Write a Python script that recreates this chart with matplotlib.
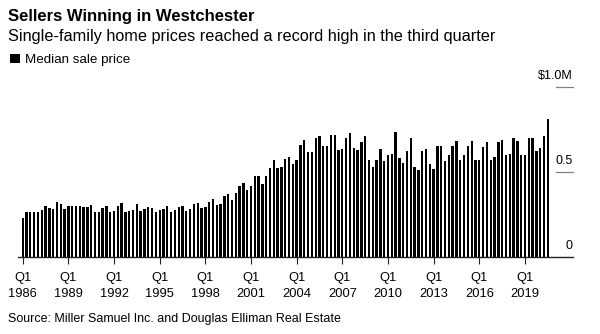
import matplotlib
matplotlib.use("Agg")
import matplotlib.pyplot as plt
import matplotlib.transforms as mtransforms
import numpy as np

plt.rcParams['font.family'] = ['Liberation Sans', 'DejaVu Sans']

# Quarterly median sale price, $ millions, Q1 1986 .. Q3 2020
prices = [
    0.228, 0.261, 0.261, 0.261, 0.261, 0.277, 0.299, 0.287, 0.281, 0.320,
    0.312, 0.281, 0.297, 0.299, 0.299, 0.299, 0.293, 0.293, 0.305, 0.261,
    0.265, 0.285, 0.297, 0.265, 0.271, 0.297, 0.316, 0.265, 0.271, 0.277,
    0.310, 0.271, 0.281, 0.293, 0.287, 0.261, 0.277, 0.281, 0.297, 0.261,
    0.277, 0.293, 0.297, 0.271, 0.281, 0.310, 0.314, 0.287, 0.293, 0.320,
    0.340, 0.307, 0.312, 0.358, 0.369, 0.336, 0.373, 0.417, 0.434, 0.395,
    0.417, 0.472, 0.476, 0.428, 0.472, 0.521, 0.568, 0.519, 0.525, 0.576,
    0.589, 0.546, 0.567, 0.659, 0.687, 0.616, 0.616, 0.697, 0.708, 0.649,
    0.649, 0.714, 0.714, 0.629, 0.634, 0.697, 0.730, 0.638, 0.625, 0.677,
    0.709, 0.569, 0.529, 0.569, 0.634, 0.565, 0.600, 0.606, 0.732, 0.581,
    0.552, 0.624, 0.698, 0.525, 0.511, 0.624, 0.634, 0.547, 0.515, 0.649,
    0.649, 0.565, 0.600, 0.649, 0.683, 0.570, 0.600, 0.649, 0.683, 0.571,
    0.571, 0.643, 0.673, 0.571, 0.585, 0.673, 0.688, 0.600, 0.606, 0.698,
    0.679, 0.600, 0.600, 0.698, 0.698, 0.619, 0.640, 0.708, 0.811,
]
start_year = 1986
tick_years = list(range(1986, 2020, 3))
y_ticks = [0, 0.5, 1.0]
y_tick_labels = ["0", "0.5", "$1.0M"]

title = "Sellers Winning in Westchester"
subtitle = "Single-family home prices reached a record high in the third quarter"
legend_label = "Median sale price"
source = "Source: Miller Samuel Inc. and Douglas Elliman Real Estate"

W, H = 600, 334
fig = plt.figure(figsize=(W / 100, H / 100), dpi=100)
ax_left, ax_right = 18, 573
ax_bottom, ax_top = 256.7, 86.7
ax = fig.add_axes([ax_left / W, 1 - ax_bottom / H, (ax_right - ax_left) / W, (ax_bottom - ax_top) / H])

x = np.arange(len(prices))
ax.bar(x, prices, width=0.62, color="black", linewidth=0, zorder=2)

step = 3.805
first_px = 22.7
ax.set_xlim(-(first_px - ax_left) / step, (ax_right - first_px) / step)
ax.set_ylim(0, 1.0)

for s in ["top", "right", "left"]:
    ax.spines[s].set_visible(False)
ax.spines["bottom"].set_color("#222222")
ax.spines["bottom"].set_linewidth(1.0)
ax.spines["bottom"].set_zorder(3)

tick_pos = [(yr - start_year) * 4 for yr in tick_years]
ax.set_xticks(tick_pos)
ax.set_xticklabels([])
ax.tick_params(axis="x", length=5, width=0.8, color="#222222")
ax.set_yticks([])

# x tick labels placed by baseline (x in data, y in figure pixels)
tx = mtransforms.blended_transform_factory(ax.transData, fig.transFigure)
for pos, yr in zip(tick_pos, tick_years):
    ax.text(pos, 1 - 281 / H, "Q1", transform=tx, ha="center", va="baseline", fontsize=9.3)
    ax.text(pos, 1 - 297 / H, str(yr), transform=tx, ha="center", va="baseline", fontsize=9.3)

# right-side value labels with short grid dashes
trans = mtransforms.blended_transform_factory(ax.transAxes, ax.transData)
for v, lab in zip(y_ticks, y_tick_labels):
    if v > 0:
        ax.plot([0.969, 1.0], [v, v], transform=trans, color="#808080", lw=0.9, clip_on=False)
    ax.annotate(lab, xy=(1.0, v), xycoords=trans, xytext=(0, 5.8), textcoords="offset points",
                ha="right", va="baseline", fontsize=9, color="black")

fig.text(8 / W, 1 - 20.7 / H, title, fontsize=12, fontweight="bold", ha="left", va="baseline")
fig.text(7.5 / W, 1 - 40.7 / H, subtitle, fontsize=11.7, ha="left", va="baseline")
fig.patches.append(plt.Rectangle((10 / W, 1 - 63.3 / H), 9.5 / W, 9 / H, transform=fig.transFigure,
                                 facecolor="black", edgecolor="none"))
fig.text(25 / W, 1 - 63.3 / H, legend_label, fontsize=9.6, ha="left", va="baseline")
fig.text(8.5 / W, 1 - 322 / H, source, fontsize=9, ha="left", va="baseline")

fig.savefig("out.png", dpi=100)
